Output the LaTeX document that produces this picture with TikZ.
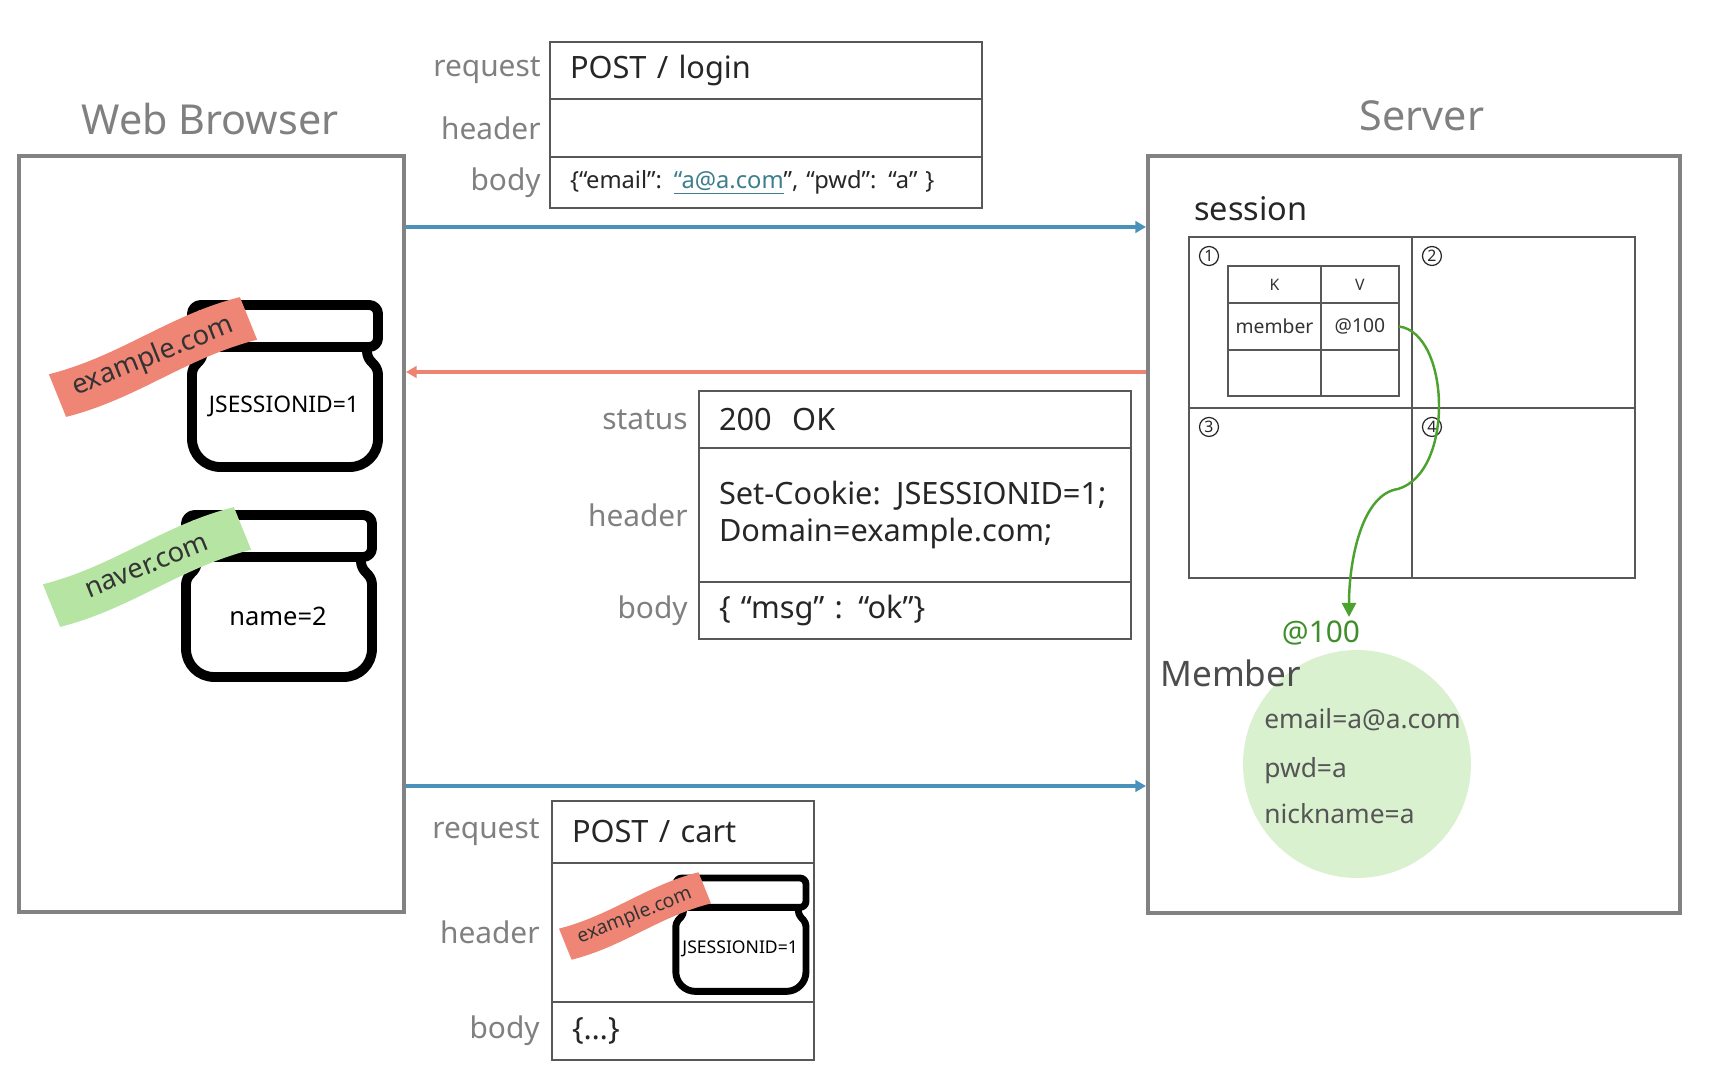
\documentclass[tikz,border=0pt]{standalone}
\usepackage{fontspec}
\setmainfont{Noto Sans}
\usepackage{tikz}
\usetikzlibrary{calc}
\usetikzlibrary{positioning}
\usetikzlibrary{arrows.meta}
\definecolor{boxgray}{HTML}{828282}
\definecolor{tblgray}{HTML}{585858}
\definecolor{lblgray}{HTML}{808080}
\definecolor{reqblue}{HTML}{4A92BA}
\definecolor{resred}{HTML}{EC8373}
\definecolor{tagred}{HTML}{EF8575}
\definecolor{taggreen}{HTML}{B5E4A3}
\definecolor{memfill}{HTML}{DAF1D0}
\definecolor{ptrgreen}{HTML}{4CA22E}
\definecolor{atgreen}{HTML}{3F8E2B}
\definecolor{linkteal}{HTML}{3D7E8C}
\definecolor{memtext}{HTML}{555555}
\tikzset{
side/.style={draw=boxgray,line width=2.3pt,anchor=north west,inner sep=0pt},
title/.style={text=lblgray,inner sep=0pt,font=\fontsize{23.5pt}{28pt}\selectfont},
lbl/.style={text=lblgray,inner sep=0pt,font=\fontsize{17pt}{20pt}\selectfont},
row/.style={draw=tblgray,line width=1.5pt,outer sep=0pt,inner xsep=0.4cm,inner ysep=0pt,align=left,text=black!85,font=\fontsize{17.5pt}{21pt}\selectfont},
wide/.style={row,minimum width=8.64cm,text width=7.84cm},
narrow/.style={row,minimum width=5.24cm,text width=4.44cm},
cell/.style={draw=tblgray,line width=1.5pt,outer sep=0pt,inner sep=0pt},
num/.style={circle,draw=black!85,line width=0.7pt,inner sep=0pt,minimum size=0.38cm,text=black!85,font=\fontsize{9pt}{10pt}\selectfont},
kv/.style={cell,text=black!80,font=\fontsize{11pt}{13pt}\selectfont},
kvhead/.style={kv,font=\bfseries\fontsize{9pt}{11pt}\selectfont},
jarline/.style={draw=black,fill=white,line join=round},
req/.style={draw=reqblue,line width=2.2pt,-{Triangle[length=6pt,width=6.5pt]}},
res/.style={draw=resred,line width=1.8pt,-{Triangle[length=6pt,width=6.5pt]}},
ptr/.style={draw=ptrgreen,line width=1.4pt,-{Triangle[length=8pt,width=8pt]}},
memb/.style={inner sep=0pt,anchor=base west,text=memtext,font=\fontsize{15pt}{18pt}\selectfont}
}
\begin{document}
\begin{tikzpicture}[x=0.02cm,y=-0.02cm]
    \newcommand{\jar}[6]{%
      \begin{scope}[shift={(#2,#3)},scale=#4]
        \draw[jarline,line width=#4*5.6pt] (-175,42)
          [rounded corners=#4*3pt] -- (-175,52) -- (-186,64)
          [rounded corners=#4*16pt] -- (-186,162) -- (0,162)
          [rounded corners=#4*3pt] -- (0,64) -- (-11,52) -- (-11,42);
        \draw[jarline,line width=#4*5.6pt,rounded corners=#4*5pt] (-186,0) rectangle (0,42);
        \node[inner sep=0pt,text=black,font=\fontsize{#6}{#6}\selectfont] (#1) at (-94,101) {#5};
      \end{scope}}
    \newcommand{\cookietag}[7]{%
      \begin{scope}[shift={(#2,#3)},rotate=22,scale=#4]
        \fill[#5] (-103,-23) .. controls (-30,-13) and (30,-33) .. (103,-23)
          -- (103,23) .. controls (30,13) and (-30,33) .. (-103,23) -- cycle;
        \node[rotate=22,inner sep=0pt,text=black!80,font=\fontsize{#7}{#7}\selectfont] (#1) at (0,0) {#6};
      \end{scope}}
    \useasboundingbox (0,0) rectangle (1715,1087);
    %
    \node[side,minimum width=7.7cm,minimum height=15.12cm] (browser) at (17,154) {};
    \node[side,minimum width=10.64cm,minimum height=15.14cm] (server) at (1146,154) {};
    \node[title] (tbrowser) at (210,119) {Web Browser};
    \node[title] (tserver) at (1422,116) {Server};
    %
    \node[wide,minimum height=1.14cm,anchor=north west] (rq1) at (550,42) {POST / login};
    \node[wide,minimum height=1.16cm,below=0pt of rq1] (rq2) {};
    \node[wide,minimum height=1.02cm,below=0pt of rq2,font=\fontsize{13.5pt}{16pt}\selectfont] (rq3)
      {\{“email”: {\color{linkteal}\underline{“a@a.com}}”, “pwd”: “a” \}};
    \foreach \r/\t in {rq1/request,rq2/header,rq3/body}
    \node[lbl,left=0.18cm of \r] (l\r) {\t};
    %
    \node[wide,minimum height=1.14cm,anchor=north west] (rs1) at (699,391) {200\ \ OK};
    \node[wide,minimum height=2.68cm,below=0pt of rs1] (rs2) {Set-Cookie: JSESSIONID=1;\\Domain=example.com;};
    \node[wide,minimum height=1.14cm,below=0pt of rs2] (rs3) {\{ “msg” : “ok”\}};
    \foreach \r/\t in {rs1/status,rs2/header,rs3/body}
    \node[lbl,left=0.22cm of \r] (l\r) {\t};
    %
    \node[narrow,minimum height=1.24cm,anchor=north west] (rc1) at (552,801) {POST / cart};
    \node[narrow,minimum height=2.78cm,below=0pt of rc1] (rc2) {};
    \node[narrow,minimum height=1.16cm,below=0pt of rc2] (rc3) {\{…\}};
    \foreach \r/\t in {rc1/request,rc2/header,rc3/body}
    \node[lbl,left=0.24cm of \r] (l\r) {\t};
    %
    \draw[req] (browser.east |- 0,227) -- (server.west |- 0,227);
    \draw[res] (server.west |- 0,372) -- (browser.east |- 0,372);
    \draw[req] (browser.east |- 0,786) -- (server.west |- 0,786);
    %
    \jar{j1}{378}{305}{1}{JSESSIONID=1}{13pt}
    \cookietag{t1}{153}{357}{1}{tagred}{example.com}{15.5pt}
    \jar{j2}{372}{515}{1}{name=2}{14.5pt}
    \cookietag{t2}{147}{567}{1}{taggreen}{naver.com}{15.5pt}
    \jar{j3}{806}{878}{0.7}{JSESSIONID=1}{10pt}
    \cookietag{t3}{635}{916}{0.73}{tagred}{example.com}{11pt}
    %
    \node[anchor=base west,inner sep=0pt,text=black!85,font=\fontsize{18.5pt}{22pt}\selectfont] (sess) at (1194,221) {session};
    \node[cell,minimum width=4.46cm,minimum height=3.42cm,anchor=north west] (s1) at (1189,237) {};
    \node[cell,minimum width=4.46cm,minimum height=3.42cm,right=0pt of s1] (s2) {};
    \node[cell,minimum width=4.46cm,minimum height=3.4cm,below=0pt of s1] (s3) {};
    \node[cell,minimum width=4.46cm,minimum height=3.4cm,right=0pt of s3] (s4) {};
    \foreach \c/\n in {s1/1,s2/2,s3/3,s4/4}
    \node[num] (n\c) at ([shift={(20,19)}]\c.north west) {\n};
    %
    \node[kvhead,minimum width=1.86cm,minimum height=0.74cm,anchor=north west] (kh) at (1228,266) {K};
    \node[kvhead,minimum width=1.56cm,minimum height=0.74cm,right=0pt of kh] (vh) {V};
    \node[kv,minimum width=1.86cm,minimum height=0.94cm,below=0pt of kh] (km) {member};
    \node[kv,minimum width=1.56cm,minimum height=0.94cm,right=0pt of km] (vm) {@100};
    \node[kv,minimum width=1.86cm,minimum height=0.92cm,below=0pt of km] (ke) {};
    \node[kv,minimum width=1.56cm,minimum height=0.92cm,right=0pt of ke] (ve) {};
    %
    \node[circle,fill=memfill,minimum size=4.56cm,inner sep=0pt] (mem) at (1357,764) {};
    \node[anchor=base west,inner sep=0pt,text=black!70,font=\fontsize{20pt}{24pt}\selectfont] (mname) at (1160,687) {Member};
    \node[memb] (f1) at (1264,728) {email=a@a.com};
    \node[memb] (f2) at (1264,777) {pwd=a};
    \node[memb] (f3) at (1264,824) {nickname=a};
    \node[anchor=base,inner sep=0pt,text=atgreen,font=\fontsize{17pt}{20pt}\selectfont] (addr) at (1321,643) {@100};
    %
    \coordinate (tip) at (1349,617);
    \draw[ptr] (vm.east) .. controls (1450,333) and (1455,472) .. (1398,489)
      .. controls (1362,494) and (1349,560) .. (tip);
  \end{tikzpicture}
\end{document}
